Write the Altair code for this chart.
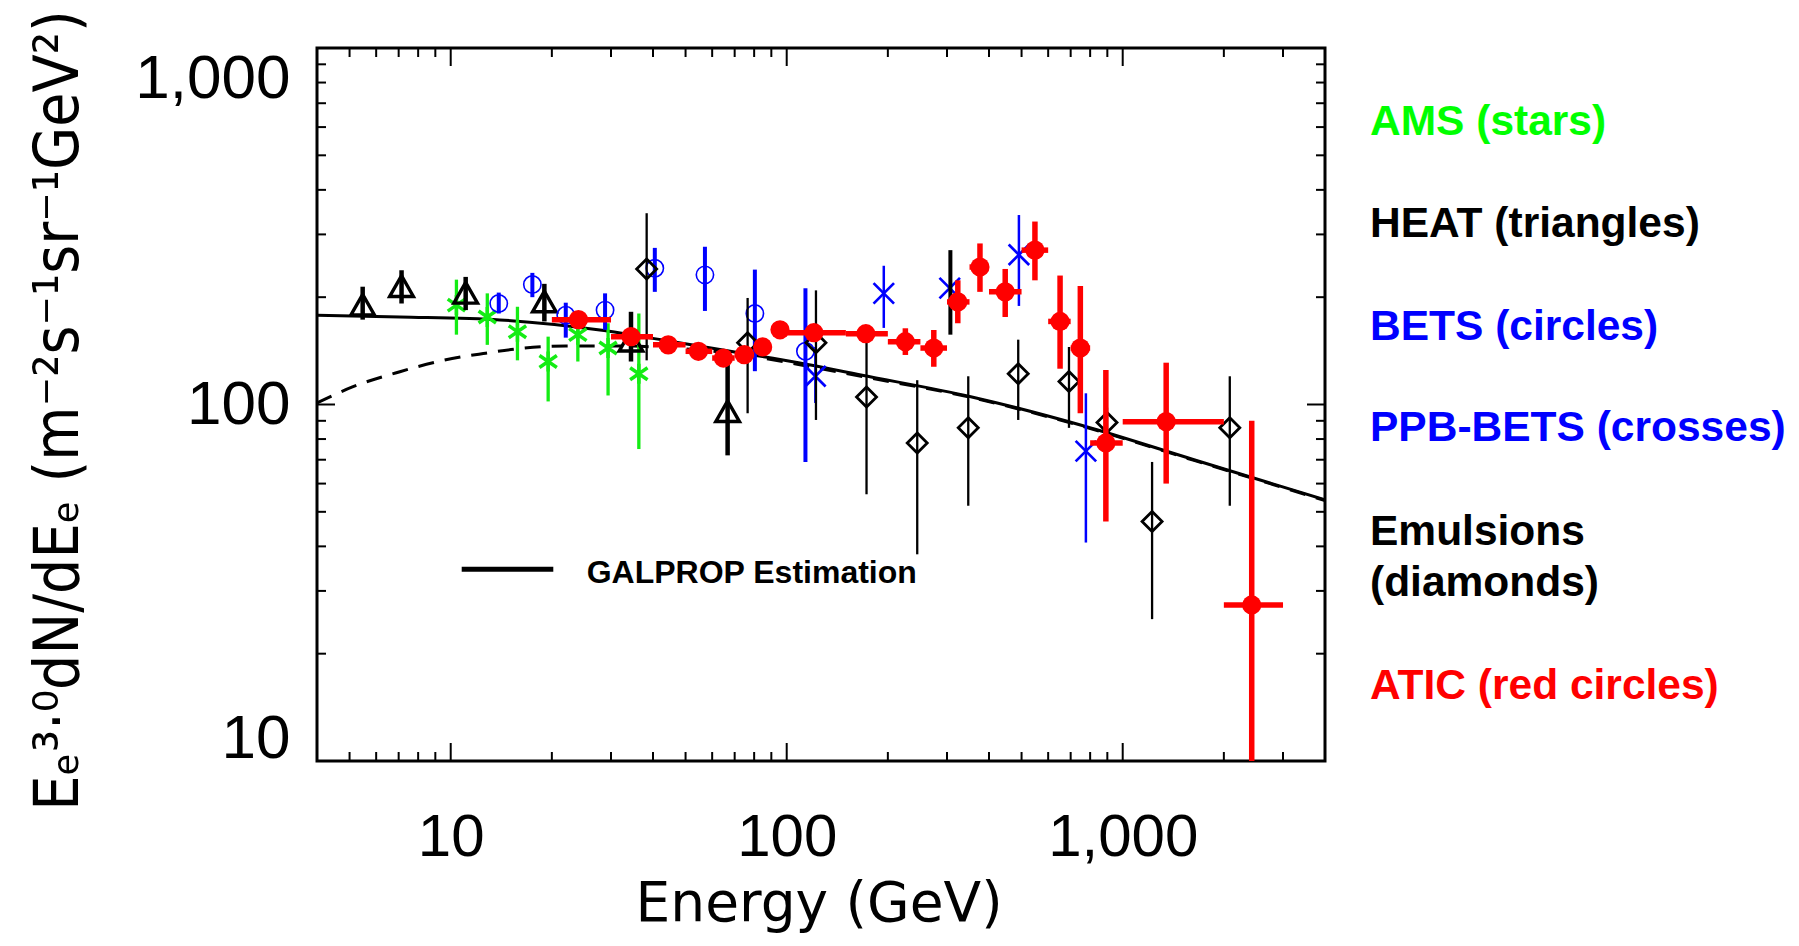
import altair as alt
import pandas as pd

# ---------------- data ----------------
# GALPROP estimation curves
galprop_E = [4, 7.06, 14, 27.8, 44, 69.3, 108.4, 166.3, 355.6, 758, 1630, 4000]
galprop_F = [178, 176, 172.7, 161.8, 151, 140.6, 131, 121, 105, 87.3, 70, 54]
dashed_E = [4, 5.1, 7.06, 9.5, 12.5, 16, 22, 32, 45, 70, 108.4, 166.3, 355.6, 758, 1630, 4000]
dashed_F = [101, 112, 123.6, 133, 139, 143.5, 146, 146, 144, 139, 129.5, 120, 104.5, 86.9, 69.7, 53.8]

# AMS (stars)
ams_E = [10.4, 12.85, 15.8, 19.5, 23.9, 29.4, 36.3]
ams_F = [190, 176, 160, 132, 157, 144, 122]
ams_lo = [157, 147, 133, 102, 132, 106, 75]
ams_hi = [224, 205, 188, 155, 182, 169, 180]

# HEAT (triangles)
heat_E = [5.47, 7.14, 11.08, 19.0, 34.4, 66.7]
heat_F = [188, 212, 203, 192, 149, 94.5]
heat_lo = [173, 192, 184, 171, 132, 72]
heat_hi = [214, 238, 228, 218, 182, 131]

# BETS (circles)
bets_E = [13.9, 17.5, 22.0, 28.8, 40.5, 57.1, 80.4, 113.7]
bets_F = [192, 217, 178, 184, 241, 231, 180, 141]
bets_lo = [180, 200, 154, 162, 207, 183, 124, 69]
bets_hi = [206, 234, 193, 205, 275, 277, 239, 212]

# PPB-BETS (crosses)
ppb_E = [121.7, 194.5, 305.6, 491, 777]
ppb_F = [120, 205, 212, 263, 74]
ppb_lo = [101, 164, 212, 189, 41]
ppb_hi = [145, 245, 212, 340, 107.5]

# Emulsions (diamonds)
emu_E = [38.3, 76.5, 122.2, 172.8, 244.6, 347, 488.7, 692, 898, 1223, 2083]
emu_F = [240, 149, 149, 105, 78, 86, 122, 116, 89, 47, 86]
emu_lo = [133, 94.5, 90.5, 56, 38, 52, 90.5, 86, 80, 25, 52]
emu_hi = [344, 199, 209, 152, 117, 120, 152, 145, 98, 69, 120]

# unmarked black error bar (near 300 GeV)
extra_E = [307]
extra_lo = [157]
extra_hi = [271]

# ATIC (red circles)
atic_E = [24.0, 34.4, 44.4, 54.6, 64.8, 74.8, 84.8, 95.5, 120.5, 172, 225.5, 274,
          323, 376, 447, 548, 651, 748, 891, 1347, 2421]
atic_F = [173, 155, 147, 141, 135, 138, 145, 162, 159, 158, 150, 144,
          194, 243, 207, 271, 171, 144, 78, 89.5, 27.4]
atic_lo = [168, 151, 143, 137, 131, 134, 140, 157, 154, 153, 137.7, 127.6,
           169, 207, 176, 223, 126, 94.5, 47, 60, 10]
atic_hi = [178, 159, 151, 145, 139, 142, 150, 167, 164, 163, 163.6, 161.8,
           223, 283, 240, 326, 230, 215, 125, 131, 90]
atic_Elo = [20, 30, 40, 50, 60, 70, 80, 90, 100, 150, 200, 250,
            300, 350, 400, 500, 600, 700, 800, 1000, 2000]
atic_Ehi = [30, 40, 50, 60, 70, 80, 90, 100, 150, 200, 250, 300,
            350, 400, 500, 600, 700, 800, 1000, 2000, 3000]

# axis ticks
x_major = [10, 100, 1000]
x_minor = [5, 6, 7, 8, 9, 20, 30, 40, 50, 60, 70, 80, 90,
           200, 300, 400, 500, 600, 700, 800, 900, 2000, 3000]
y_major = [10, 100, 1000]
y_minor = [20, 30, 40, 50, 60, 70, 80, 90, 200, 300, 400, 500, 600, 700, 800, 900]

legend_labels = ["AMS (stars)", "HEAT (triangles)", "BETS (circles)",
                 "PPB-BETS (crosses)", "Emulsions", "(diamonds)", "ATIC (red circles)"]
galprop_label = "GALPROP Estimation"
x_title = "Energy (GeV)"
y_title = "Eₑ³·⁰dN/dEₑ (m⁻²s⁻¹sr⁻¹GeV²)"

# ---------------- chart ----------------
W, H = 1008, 713
GREEN, BLUE, RED, BLACK = "#14ec14", "#0000ff", "#ff0000", "#000000"

xs = alt.Scale(type="log", domain=[4, 4000], nice=False)
ys = alt.Scale(type="log", domain=[10, 1000], nice=False)

xaxis = alt.Axis(values=x_major, format=",d", ticks=False, domain=False, grid=False,
                 labelFont="Liberation Sans", labelFontSize=60, labelColor="black",
                 labelPadding=47, labelOverlap=False, labelFlush=False,
                 title=x_title, titleFont="DejaVu Sans", titleFontSize=55,
                 titleFontWeight="normal", titleColor="black",
                 titleX=501.6, titleY=159, titleBaseline="alphabetic", titleAlign="center")
yaxis = alt.Axis(values=y_major, format=",d", ticks=False, domain=False, grid=False,
                 labelFont="Liberation Sans", labelFontSize=62, labelColor="black",
                 labelPadding=27, labelOverlap=False, labelFlush=True,
                 labelOffset={"condition": {"test": "datum.value == 10", "value": 9}, "value": 0},
                 title=y_title, titleFont="DejaVu Sans Condensed, DejaVu Sans", titleFontSize=62,
                 titleFontWeight="normal", titleColor="black", titleAngle=270,
                 titleX=-240, titleY=362, titleBaseline="alphabetic", titleAlign="center")


def X(f):
    return alt.X(f + ":Q", scale=xs, axis=xaxis)


def Y(f):
    return alt.Y(f + ":Q", scale=ys, axis=yaxis)


def df(**cols):
    return pd.DataFrame(cols)


layers = []

# curves
layers.append(alt.Chart(df(E=galprop_E, F=galprop_F)).mark_line(
    color=BLACK, strokeWidth=3, interpolate="monotone", clip=True).encode(x=X("E"), y=Y("F")))
layers.append(alt.Chart(df(E=dashed_E, F=dashed_F)).mark_line(
    color=BLACK, strokeWidth=3, strokeDash=[16, 11], interpolate="monotone", clip=True
).encode(x=X("E"), y=Y("F")))

# ticks (inside the frame)
for vals, ln in ((x_major, 18), (x_minor, 9)):
    d = df(v=vals)
    layers.append(alt.Chart(d).mark_rule(color=BLACK, strokeWidth=2).encode(
        x=X("v"), y=alt.value(H), y2=alt.value(H - ln)))
    layers.append(alt.Chart(d).mark_rule(color=BLACK, strokeWidth=2).encode(
        x=X("v"), y=alt.value(0), y2=alt.value(ln)))
for vals, ln in ((y_major, 18), (y_minor, 9)):
    d = df(v=vals)
    layers.append(alt.Chart(d).mark_rule(color=BLACK, strokeWidth=2).encode(
        y=Y("v"), x=alt.value(0), x2=alt.value(ln)))
    layers.append(alt.Chart(d).mark_rule(color=BLACK, strokeWidth=2).encode(
        y=Y("v"), x=alt.value(W), x2=alt.value(W - ln)))

STAR = "M0,-1L0,1M-0.87,-0.6L0.87,0.6M-0.87,0.6L0.87,-0.6"
TRI = "M-1,0.7L0,-1.05L1,0.7Z"
XSHAPE = "M-1,-1L1,1M-1,1L1,-1"


def series(E, F, lo, hi, color, bar_w, shape, size, stroke_w, filled=False):
    d = df(E=E, F=F, lo=lo, hi=hi)
    out = [alt.Chart(d).mark_rule(color=color, strokeWidth=bar_w, clip=True).encode(
        x=X("E"), y=Y("lo"), y2=alt.Y2("hi"))]
    if shape is not None:
        out.append(alt.Chart(d).mark_point(
            shape=shape, size=size, filled=filled, color=color, strokeWidth=stroke_w,
            opacity=1, clip=True).encode(x=X("E"), y=Y("F")))
    return out


layers += series(ams_E, ams_F, ams_lo, ams_hi, GREEN, 3.3, STAR, 400, 3.5)
layers += series(heat_E, heat_F, heat_lo, heat_hi, BLACK, 4.5, TRI, 560, 3.4)
layers += series(bets_E, bets_F, bets_lo, bets_hi, BLUE, 4, "circle", 300, 1.6)
layers += series(ppb_E, ppb_F, ppb_lo, ppb_hi, BLUE, 2.5, XSHAPE, 420, 2.7)
layers += series(emu_E, emu_F, emu_lo, emu_hi, BLACK, 2.3, "diamond", 400, 2.8)
layers += series(extra_E, extra_lo, extra_lo, extra_hi, BLACK, 4, None, 0, 0)

# ATIC
atic = df(E=atic_E, F=atic_F, lo=atic_lo, hi=atic_hi, Elo=atic_Elo, Ehi=atic_Ehi)
layers.append(alt.Chart(atic).mark_rule(color=RED, strokeWidth=5.5, clip=True).encode(
    x=X("E"), y=Y("lo"), y2=alt.Y2("hi")))
layers.append(alt.Chart(atic).mark_rule(color=RED, strokeWidth=5.5, clip=True).encode(
    x=X("Elo"), x2=alt.X2("Ehi"), y=Y("F")))
layers.append(alt.Chart(atic).mark_circle(color=RED, size=370, opacity=1, clip=True).encode(
    x=X("E"), y=Y("F")))

# GALPROP annotation inside the plot
layers.append(alt.Chart(df(t=[galprop_label])).mark_rule(color=BLACK, strokeWidth=5).encode(
    x=alt.value(144.7), x2=alt.value(236.3), y=alt.value(521.3)))
layers.append(alt.Chart(df(t=[galprop_label])).mark_text(
    font="Liberation Sans", fontSize=32, fontWeight="bold", color=BLACK,
    align="left", baseline="alphabetic").encode(
    text="t:N", x=alt.value(269.7), y=alt.value(534.7)))

# legend text on the right
legend_style = [  # (colour, baseline y relative to plot top)
    ("#00ff00", 87), (BLACK, 189), (BLUE, 292), (BLUE, 393),
    (BLACK, 497), (BLACK, 548), (RED, 651)]
for lab, (col, yy) in zip(legend_labels, legend_style):
    layers.append(alt.Chart(df(t=[lab])).mark_text(
        font="Liberation Sans", fontSize=42.5, fontWeight="bold", color=col,
        align="left", baseline="alphabetic").encode(
        text="t:N", x=alt.value(1053), y=alt.value(yy)))

chart = alt.layer(*layers).properties(
    width=W, height=H,
    padding={"left": 309, "top": 40, "right": 465, "bottom": 172},
    autosize=alt.AutoSizeParams(type="none"),
    background="white",
).configure_view(stroke="black", strokeWidth=3)

chart.save("out.html", embed_options={"renderer": "svg", "actions": False})
